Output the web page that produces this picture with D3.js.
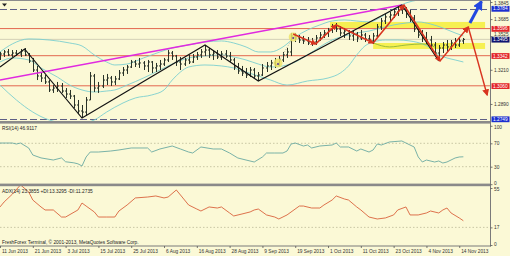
<!DOCTYPE html>
<html><head><meta charset="utf-8">
<script src="https://cdn.jsdelivr.net/npm/d3@7/dist/d3.min.js"></script>
<style>
html,body{margin:0;padding:0;background:#fbf9d6;overflow:hidden}
svg{display:block}
text{font-family:"Liberation Sans",Arial,sans-serif}
</style></head><body>
<script>
// ---------- DATA ----------
const tickLabels = ["11 Jun 2013","21 Jun 2013","3 Jul 2013","15 Jul 2013","25 Jul 2013","6 Aug 2013","16 Aug 2013","28 Aug 2013","9 Sep 2013","19 Sep 2013","1 Oct 2013","11 Oct 2013","23 Oct 2013","4 Nov 2013","14 Nov 2013"];
const tickIdx = [0,8,16,24,32,40,48,56,64,72,80,88,96,104,112];

const open = [1.3321,1.3358,1.3377,1.3349,1.3367,1.3358,1.3386,1.3349,1.3292,1.3208,
1.3152,1.3133,1.3096,1.3021,1.3039,1.3058,1.3011,1.2983,1.2964,1.2880,
1.2824,1.2814,1.2927,1.3152,1.3039,1.3058,1.3114,1.3133,1.3096,1.3124,
1.3180,1.3208,1.3236,1.3283,1.3264,1.3274,1.3246,1.3283,1.3227,1.3246,
1.3264,1.3302,1.3367,1.3339,1.3283,1.3264,1.3302,1.3283,1.3330,1.3349,
1.3377,1.3395,1.3349,1.3367,1.3330,1.3358,1.3339,1.3302,1.3236,1.3199,
1.3180,1.3161,1.3208,1.3152,1.3161,1.3227,1.3246,1.3274,1.3255,1.3302,
1.3349,1.3377,1.3527,1.3508,1.3489,1.3480,1.3461,1.3470,1.3508,1.3536,
1.3555,1.3583,1.3611,1.3592,1.3555,1.3573,1.3527,1.3545,1.3508,1.3536,
1.3499,1.3480,1.3527,1.3611,1.3667,1.3705,1.3723,1.3752,1.3770,1.3780,
1.3733,1.3695,1.3592,1.3536,1.3508,1.3489,1.3442,1.3367,1.3414,1.3442,
1.3424,1.3461,1.3442,1.3480];
const high = [1.3377,1.3395,1.3405,1.3395,1.3395,1.3405,1.3414,1.3367,1.3321,1.3246,
1.3189,1.3161,1.3114,1.3067,1.3096,1.3086,1.3039,1.3021,1.2974,1.2927,
1.2880,1.2955,1.3189,1.3171,1.3096,1.3161,1.3171,1.3152,1.3152,1.3208,
1.3236,1.3255,1.3302,1.3302,1.3321,1.3292,1.3302,1.3292,1.3274,1.3302,
1.3321,1.3395,1.3386,1.3349,1.3330,1.3321,1.3349,1.3358,1.3377,1.3405,
1.3442,1.3414,1.3395,1.3395,1.3386,1.3395,1.3377,1.3321,1.3274,1.3246,
1.3227,1.3236,1.3227,1.3189,1.3264,1.3283,1.3302,1.3321,1.3339,1.3377,
1.3414,1.3555,1.3555,1.3536,1.3527,1.3517,1.3508,1.3536,1.3564,1.3583,
1.3602,1.3639,1.3648,1.3620,1.3602,1.3583,1.3573,1.3564,1.3583,1.3555,
1.3536,1.3555,1.3639,1.3695,1.3733,1.3752,1.3780,1.3798,1.3817,1.3798,
1.3770,1.3723,1.3602,1.3583,1.3564,1.3527,1.3470,1.3442,1.3470,1.3489,
1.3489,1.3508,1.3517,1.3508];
const low = [1.3302,1.3330,1.3339,1.3330,1.3339,1.3330,1.3339,1.3274,1.3189,1.3114,
1.3096,1.3077,1.3002,1.2993,1.3002,1.2993,1.2946,1.2936,1.2852,1.2796,
1.2758,1.2777,1.2927,1.3002,1.2993,1.3039,1.3067,1.3058,1.3067,1.3114,
1.3152,1.3171,1.3227,1.3236,1.3227,1.3208,1.3189,1.3180,1.3189,1.3208,
1.3246,1.3283,1.3302,1.3246,1.3208,1.3246,1.3264,1.3274,1.3302,1.3321,
1.3339,1.3321,1.3302,1.3311,1.3302,1.3321,1.3283,1.3208,1.3171,1.3152,
1.3133,1.3142,1.3124,1.3105,1.3152,1.3189,1.3208,1.3227,1.3246,1.3283,
1.3321,1.3339,1.3470,1.3461,1.3452,1.3442,1.3433,1.3442,1.3480,1.3508,
1.3517,1.3555,1.3564,1.3527,1.3508,1.3489,1.3480,1.3470,1.3489,1.3470,
1.3461,1.3452,1.3517,1.3583,1.3639,1.3658,1.3695,1.3714,1.3733,1.3695,
1.3658,1.3564,1.3508,1.3470,1.3452,1.3414,1.3339,1.3292,1.3367,1.3377,
1.3395,1.3414,1.3424,1.3452];
const close = [1.3358,1.3377,1.3349,1.3367,1.3358,1.3386,1.3349,1.3292,1.3208,1.3152,
1.3133,1.3096,1.3021,1.3039,1.3058,1.3011,1.2983,1.2964,1.2880,1.2824,
1.2814,1.2927,1.3152,1.3039,1.3058,1.3114,1.3133,1.3096,1.3124,1.3180,
1.3208,1.3236,1.3283,1.3264,1.3274,1.3246,1.3283,1.3227,1.3246,1.3264,
1.3302,1.3367,1.3339,1.3283,1.3264,1.3302,1.3283,1.3330,1.3349,1.3377,
1.3395,1.3349,1.3367,1.3330,1.3358,1.3339,1.3302,1.3236,1.3199,1.3180,
1.3161,1.3208,1.3152,1.3161,1.3227,1.3246,1.3274,1.3255,1.3302,1.3349,
1.3377,1.3527,1.3508,1.3489,1.3480,1.3461,1.3470,1.3508,1.3536,1.3555,
1.3583,1.3611,1.3592,1.3555,1.3573,1.3527,1.3545,1.3508,1.3536,1.3499,
1.3480,1.3527,1.3611,1.3667,1.3705,1.3723,1.3752,1.3770,1.3780,1.3733,
1.3695,1.3592,1.3536,1.3508,1.3489,1.3442,1.3367,1.3414,1.3442,1.3424,
1.3461,1.3442,1.3480,1.3495];

// Bollinger bands (read at sample bars)
const bbIdxU = [0,3,7,12,17,20,23,26,28,31,35,39,42,46,50,54,57,60,63,66,69,72,75,78,81,84,87,90,93,96,99,102,106,110,113];
const bbUpper = [1.3377,1.3452,1.3499,1.3489,1.3461,1.3433,1.3349,1.3283,1.3255,1.3264,1.3321,1.3377,1.3414,1.3442,1.3470,1.3480,1.3461,1.3424,1.3377,1.3377,1.3424,1.3517,1.3583,1.3630,1.3667,1.3677,1.3667,1.3658,1.3705,1.3780,1.3836,1.3864,1.3883,1.3873,1.3864];
const bbIdxM = [0,3,7,10,14,17,20,23,26,28,31,35,39,42,46,50,54,57,60,63,66,69,72,75,78,81,84,87,90,93,96,99,102,105,108,111,113];
const bbMid = [1.3283,1.3321,1.3302,1.3227,1.3142,1.3067,1.3021,1.3002,1.3011,1.3021,1.3067,1.3133,1.3208,1.3264,1.3321,1.3339,1.3349,1.3330,1.3302,1.3264,1.3236,1.3246,1.3283,1.3349,1.3424,1.3489,1.3527,1.3555,1.3573,1.3602,1.3630,1.3648,1.3658,1.3639,1.3602,1.3555,1.3527];
const bbIdxL = [0,4,8,12,16,20,23,26,30,33,37,40,42,44,46,50,54,57,60,63,66,70,75,80,83,85,87,89,91,94,97,100,103,105,107,109,111,113];
const bbLower = [1.3067,1.2927,1.2814,1.2740,1.2712,1.2712,1.2740,1.2814,1.2899,1.2946,1.2974,1.3021,1.3114,1.3189,1.3236,1.3255,1.3246,1.3227,1.3189,1.3152,1.3114,1.3067,1.3105,1.3133,1.3180,1.3246,1.3349,1.3433,1.3470,1.3489,1.3489,1.3480,1.3452,1.3414,1.3349,1.3321,1.3302,1.3283];

// RSI(14)
const rsiIdx = [0,3,4,5,7,8,10,13,15,16,18,19,20,21,22,24,27,29,32,36,37,39,42,44,46,47,49,52,54,56,58,60,62,64,65,67,69,70,71,72,74,75,76,78,81,82,83,85,87,88,90,91,92,93,95,98,99,101,102,103,104,106,107,108,109,111,112,113];
const rsiVal = [70.5,70.5,68.8,70.5,62.0,50.0,45.0,41.4,45.0,38.4,36.6,34.9,31.2,46.6,55.1,55.1,56.8,58.6,62.0,62.0,55.1,60.3,65.4,60.3,55.1,53.4,63.7,60.3,60.3,53.4,44.9,41.4,38.0,46.6,53.4,53.4,53.4,56.8,68.8,70.5,65.4,67.1,62.0,65.4,67.1,70.5,63.7,63.7,56.8,60.3,55.1,58.6,68.8,67.1,72.3,74.0,70.5,63.7,46.6,38.0,41.4,38.0,39.7,36.3,38.0,44.9,46.6,46.9117];
const rsiLevels = [70,30];
const rsiTicks = [100,70,30,0];

// ADX(14)
const adxIdx = [0,1,3,5,7,8,10,11,13,15,16,19,20,21,23,24,26,28,29,31,33,36,38,40,41,43,44,46,48,49,51,53,54,56,57,59,61,62,63,65,67,68,70,73,74,76,78,79,81,82,84,85,87,88,90,92,94,96,97,99,100,102,104,105,107,108,109,110,112,113];
const adxVal = [36.7,41.5,49.0,58.0,51.2,43.4,36.7,33.8,33.8,27.0,27.0,33.8,40.5,37.6,31.9,27.0,27.0,27.0,32.8,38.6,45.4,46.3,47.3,45.4,46.3,53.1,48.3,38.6,34.7,32.8,36.7,35.7,36.7,30.9,28.0,29.9,31.9,33.8,34.7,29.0,27.0,25.1,29.0,37.6,37.6,35.7,35.7,38.6,43.4,47.3,44.4,43.4,36.7,33.8,27.0,25.1,26.1,29.0,33.8,36.7,29.0,29.0,30.9,32.8,30.9,33.8,35.7,30.9,26.1,23.3855];
const adxLevels = [17];
const adxTicks = [55,17,0];

// Price levels
const axisLevels = [1.3845,1.3685,1.3525,1.3210,1.2890];
const boxLevels = [1.3784,1.3596,1.3495,1.3342,1.3060,1.2749];
const dashedLevels = [1.3784,1.2749];
const redLevels = [1.3596,1.3342,1.3060];
const bidLevels = [1.3495];

// Analysis objects
const trendIdx = [0,98], trendVal = [1.3114,1.3817];
const zigIdx = [0,6,20,50,63,98,107];
const zigVal = [1.3236,1.3405,1.2758,1.3442,1.3105,1.3817,1.3292];
const redIdx = [71.5,77,82,91,98.5,107.3,114.2,118.8];
const redVal = [1.3545,1.3452,1.3630,1.3461,1.3817,1.3292,1.3611,1.2974];
const blueIdx = [114.6,117.4], blueVal = [1.3648,1.3850];
const bandIdxFrom = [80.5,91], bandIdxTo = [118.3,118.3];
const bandHi = [1.3658,1.3461], bandLo = [1.3602,1.3405];
const greenIdx = [91,95,99,103,106], greenVal = [1.3461,1.3424,1.3442,1.3452,1.3424];
const markIdx = [67.8,71.5], markVal = [1.3274,1.3517];

// ---------- CHART ----------
const W=510,H=256,R=490,FS=4.8,BG="#fbf9d6";
const svg=d3.select("body").append("svg").attr("width",W).attr("height",H);
svg.append("rect").attr("width",W).attr("height",H).attr("fill",BG);

const x=d3.scaleLinear().domain([0,119.5]).range([0,R]);
const yP=d3.scaleLinear().domain([1.2749,1.3845]).range([119,2]);
const yR=d3.scaleLinear().domain([0,100]).range([184.2,125.8]);
const yA=d3.scaleLinear().domain([0,55]).range([245,188]);

const defs=svg.append("defs");
function clip(id,y0,h){defs.append("clipPath").attr("id",id).append("rect").attr("x",0).attr("y",y0).attr("width",R).attr("height",h);}
clip("cm",0.5,120.5); clip("cr",123.5,60); clip("ca",186,59.5);
function marker(id,color,size){
  defs.append("marker").attr("id",id).attr("viewBox","0 0 10 10").attr("refX",8).attr("refY",5)
   .attr("markerUnits","userSpaceOnUse").attr("markerWidth",size).attr("markerHeight",size).attr("orient","auto")
   .append("path").attr("d","M0,0L10,5L0,10Z").attr("fill",color);
}
marker("mr","#d8341f",6); marker("mr2","#d8341f",7); marker("mb","#2448e0",10);

const zip=(a,b)=>a.map((v,i)=>[v,b[i]]);

// ---- main panel ----
const gm=svg.append("g").attr("clip-path","url(#cm)");
gm.selectAll(".band").data(d3.range(bandHi.length)).join("rect")
  .attr("x",i=>x(bandIdxFrom[i])).attr("width",i=>x(bandIdxTo[i])-x(bandIdxFrom[i]))
  .attr("y",i=>yP(bandHi[i])).attr("height",i=>yP(bandLo[i])-yP(bandHi[i]))
  .attr("fill","#f4ee3a").attr("opacity",0.85);

gm.selectAll(".bid").data(bidLevels).join("line").attr("x1",0).attr("x2",R)
  .attr("y1",d=>yP(d)).attr("y2",d=>yP(d)).attr("stroke","#c9c6b0").attr("stroke-width",0.8);
gm.selectAll(".dl").data(dashedLevels).join("line").attr("x1",0).attr("x2",R)
  .attr("y1",d=>Math.round(yP(d))+0.5).attr("y2",d=>Math.round(yP(d))+0.5)
  .attr("stroke","#5d5f86").attr("stroke-width",1).attr("stroke-dasharray","7,3");
gm.selectAll(".rl").data(redLevels).join("line").attr("x1",0).attr("x2",R)
  .attr("y1",d=>yP(d)).attr("y2",d=>yP(d)).attr("stroke","#e0573f").attr("stroke-width",0.9);

const lineP=d3.line().x(d=>x(d[0])).y(d=>yP(d[1])).curve(d3.curveMonotoneX);
[[bbIdxU,bbUpper],[bbIdxM,bbMid],[bbIdxL,bbLower]].forEach(([a,b])=>{
  gm.append("path").attr("d",lineP(zip(a,b))).attr("fill","none").attr("stroke","#7ccfcf").attr("stroke-width",0.9);
});
gm.append("path").attr("d",lineP(zip(greenIdx,greenVal))).attr("fill","none").attr("stroke","#8fb43a").attr("stroke-width",0.9);

// OHLC bars
const bars=gm.append("g").attr("stroke","#2a3328").attr("stroke-width",1);
const bi=d3.range(close.length);
bars.selectAll(".hl").data(bi).join("line")
  .attr("x1",i=>Math.round(x(i))+0.5).attr("x2",i=>Math.round(x(i))+0.5)
  .attr("y1",i=>yP(high[i])).attr("y2",i=>yP(low[i]));
bars.selectAll(".op").data(bi).join("line")
  .attr("x1",i=>Math.round(x(i))-1).attr("x2",i=>Math.round(x(i))+0.5)
  .attr("y1",i=>yP(open[i])).attr("y2",i=>yP(open[i]));
bars.selectAll(".cl").data(bi).join("line")
  .attr("x1",i=>Math.round(x(i))+0.5).attr("x2",i=>Math.round(x(i))+2)
  .attr("y1",i=>yP(close[i])).attr("y2",i=>yP(close[i]));

// trend line & zigzag
const lineL=d3.line().x(d=>x(d[0])).y(d=>yP(d[1]));
gm.append("path").attr("d",lineL(zip(trendIdx,trendVal))).attr("fill","none").attr("stroke","#e02ae0").attr("stroke-width",1.4);
gm.append("path").attr("d",lineL(zip(zigIdx,zigVal))).attr("fill","none").attr("stroke","#151515").attr("stroke-width",1.2);

// highlight markers
gm.append("path").attr("d",lineL(zip(markIdx,markVal))).attr("stroke","#8a8a8a").attr("stroke-width",0.7).attr("stroke-dasharray","1,1.5");
gm.selectAll(".mk").data(d3.range(markIdx.length)).join("circle")
  .attr("cx",i=>x(markIdx[i])).attr("cy",i=>yP(markVal[i])).attr("r",4.5)
  .attr("fill","#ece46a").attr("opacity",0.85);
gm.selectAll(".mkd").data(d3.range(markIdx.length)).join("circle")
  .attr("cx",i=>x(markIdx[i])).attr("cy",i=>yP(markVal[i])+1).attr("r",1)
  .attr("fill","#5a3a9a");

// red arrows
const rp=zip(redIdx,redVal);
for(let k=0;k<rp.length-1;k++){
  const last=k>=rp.length-3;
  gm.append("path").attr("d",lineL([rp[k],rp[k+1]])).attr("fill","none")
    .attr("stroke","#d8341f").attr("stroke-width",last?1.4:1.6)
    .attr("marker-end",last?"url(#mr2)":"url(#mr)");
}
gm.append("path").attr("d",lineL(zip(blueIdx,blueVal))).attr("fill","none")
  .attr("stroke","#2448e0").attr("stroke-width",3).attr("marker-end","url(#mb)");

// top-left marker
svg.append("path").attr("d","M2,3.5L7,3.5L4.5,6.5Z").attr("fill","#222");

// ---- RSI panel ----
const gr=svg.append("g").attr("clip-path","url(#cr)");
gr.selectAll(".lv").data(rsiLevels).join("line").attr("x1",0).attr("x2",R)
  .attr("y1",d=>yR(d)).attr("y2",d=>yR(d)).attr("stroke","#bdbb98").attr("stroke-width",0.8).attr("stroke-dasharray","1.5,2");
gr.append("path").attr("d",d3.line().x(d=>x(d[0])).y(d=>yR(d[1]))(zip(rsiIdx,rsiVal)))
  .attr("fill","none").attr("stroke","#6aa9a2").attr("stroke-width",0.9);

// ---- ADX panel ----
const ga=svg.append("g").attr("clip-path","url(#ca)");
ga.selectAll(".lv").data(adxLevels).join("line").attr("x1",0).attr("x2",R)
  .attr("y1",d=>yA(d)).attr("y2",d=>yA(d)).attr("stroke","#bdbb98").attr("stroke-width",0.8).attr("stroke-dasharray","1.5,2");
ga.append("path").attr("d",d3.line().x(d=>x(d[0])).y(d=>yA(d[1]))(zip(adxIdx,adxVal)))
  .attr("fill","none").attr("stroke","#d9623c").attr("stroke-width",0.9);

// ---- frames / separators ----
svg.append("line").attr("x1",0).attr("x2",R).attr("y1",0.5).attr("y2",0.5).attr("stroke","#8c8c8c").attr("stroke-width",1);
svg.append("rect").attr("x",0).attr("y",121).attr("width",R+0.5).attr("height",2.6).attr("fill","#8a8a8a");
svg.append("rect").attr("x",0).attr("y",183.6).attr("width",R+0.5).attr("height",2.6).attr("fill","#8a8a8a");
svg.append("line").attr("x1",R+0.5).attr("x2",R+0.5).attr("y1",0).attr("y2",246.5).attr("stroke","#7a7a7a").attr("stroke-width",1);
svg.append("line").attr("x1",0).attr("x2",R+1).attr("y1",246).attr("y2",246).attr("stroke","#7a7a7a").attr("stroke-width",1);

function styleAxis(g){
  g.select(".domain").remove();
  g.selectAll(".tick line").attr("stroke","#555").attr("stroke-width",0.8);
  g.selectAll(".tick text").attr("fill","#333").style("font-size",FS+"px").style("font-family","'Liberation Sans',Arial,sans-serif");
}

// price axis (plain labels)
const pa=svg.append("g").attr("transform",`translate(${R+0.5},0)`)
  .call(d3.axisRight(yP).tickValues(axisLevels).tickSize(2).tickPadding(1.5).tickFormat(d3.format(".4f")));
styleAxis(pa);
pa.selectAll(".tick").filter(d=>d===1.3845).select("text").attr("dy","0.55em");
pa.selectAll(".tick").filter(d=>d===1.3525).select("text").attr("dy","-0.15em");

// price boxes
const boxColor={1.3784:"#1b2fd0",1.3596:"#e3262a",1.3495:"#0f1470",1.3342:"#e3262a",1.3060:"#e3262a",1.2749:"#1b2fd0"};
const bx=svg.append("g");
bx.selectAll("rect").data(boxLevels).join("rect")
  .attr("x",R+1.5).attr("y",d=>yP(d)-2.6).attr("width",18).attr("height",5.8).attr("fill",d=>boxColor[d]);
bx.selectAll("text").data(boxLevels).join("text")
  .attr("x",R+3).attr("y",d=>yP(d)+1.9).attr("fill","#fff").style("font-size",FS+"px")
  .text(d=>d3.format(".4f")(d));

// RSI / ADX axes
const ra=svg.append("g").attr("transform",`translate(${R+0.5},0)`)
  .call(d3.axisRight(yR).tickValues(rsiTicks).tickSize(2).tickPadding(1.5));
styleAxis(ra);
ra.selectAll(".tick").filter(d=>d===100).select("text").attr("dy","0.5em");
ra.selectAll(".tick").filter(d=>d===0).select("text").attr("dy","0.05em");
const aa=svg.append("g").attr("transform",`translate(${R+0.5},0)`)
  .call(d3.axisRight(yA).tickValues(adxTicks).tickSize(2).tickPadding(1.5));
styleAxis(aa);
aa.selectAll(".tick").filter(d=>d===55).select("text").attr("dy","0.55em");
aa.selectAll(".tick").filter(d=>d===0).select("text").attr("dy","0.0em");

// date axis
const da=svg.append("g").attr("transform","translate(0,246)")
  .call(d3.axisBottom(x).tickValues(tickIdx).tickSize(2).tickPadding(2).tickFormat((d,i)=>tickLabels[i]));
styleAxis(da);
da.selectAll(".tick text").attr("text-anchor","start").attr("dx","0.3em").attr("dy","0.55em");

// titles
const T=svg.append("g").attr("fill","#222").style("font-size",FS+"px");
T.append("text").attr("x",2).attr("y",130).text("RSI(14) 46.9117");
T.append("text").attr("x",2).attr("y",193).text("ADX(14) 23.3855 +DI:13.3295 -DI:11.2735");
T.append("text").attr("x",2).attr("y",244).text("FreshForex Terminal, © 2001-2013, MetaQuotes Software Corp.");
</script>
</body></html>
